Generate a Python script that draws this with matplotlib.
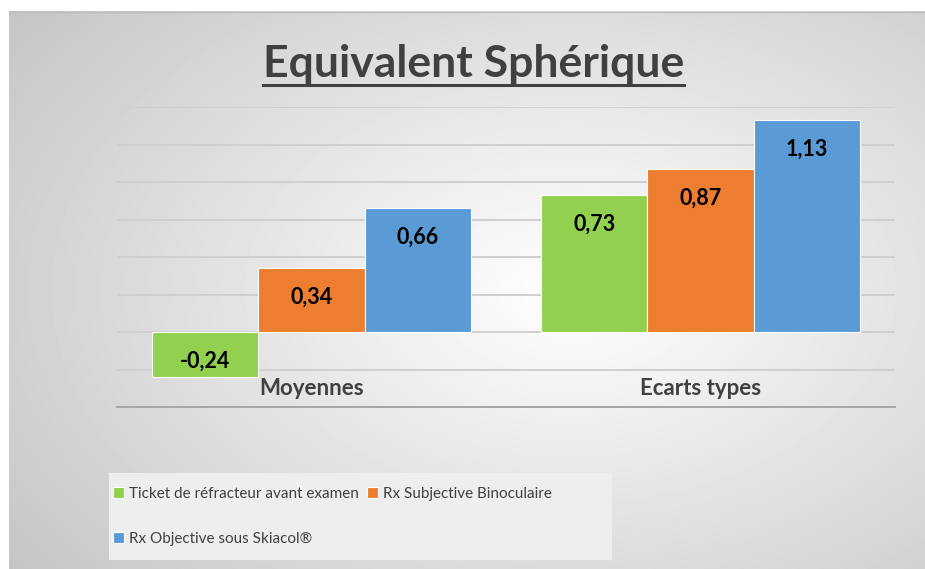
import numpy as np
import matplotlib
matplotlib.use('Agg')
import matplotlib.pyplot as plt
from matplotlib.patches import Rectangle
from matplotlib.lines import Line2D

plt.rcParams['font.family'] = ['Lato', 'DejaVu Sans']

# --- données ---
categories = ['Moyennes', 'Ecarts types']
series = ['Ticket de réfracteur avant examen',
          'Rx Subjective Binoculaire',
          'Rx Objective sous Skiacol®']
ticket = [-0.24, 0.73]
subjective = [0.34, 0.87]
objective = [0.66, 1.13]
colors = ['#92D050', '#ED7D31', '#5B9BD5']
y_ticks = [-0.4, -0.2, 0, 0.2, 0.4, 0.6, 0.8, 1.0, 1.2]

W, H = 925, 569
fig = plt.figure(figsize=(W / 100, H / 100), dpi=100)
fig.patch.set_facecolor('white')

# fond dégradé radial (zone du graphique)
bg = fig.add_axes([9 / W, 0, 1 - 9 / W, 1 - 11 / H], zorder=-2)
yy, xx = np.mgrid[11:H, 9:W]
d = np.hypot((xx - 570) / 460, (yy - 290) / 300)
shade = np.clip(255 - 38 * d, 190, 255) / 255
bg.imshow(shade, cmap='gray', vmin=0, vmax=1, aspect='auto', interpolation='bilinear')
bg.axis('off')
fig.add_artist(Line2D([9 / W, 1], [1 - 11.5 / H, 1 - 11.5 / H], color='#bdbdbd', lw=1))

# axes principaux
ax = fig.add_axes([117 / W, 162 / H, 778 / W, 300 / H])
ax.patch.set_alpha(0)
x = np.arange(len(categories))
w = 0.273
for i, (vals, name, c) in enumerate(zip([ticket, subjective, objective], series, colors)):
    bars = ax.bar(x + (i - 1) * w, vals, w, color=c, edgecolor='white',
                  linewidth=0.8, label=name, zorder=3)
    for b, v in zip(bars, vals):
        ax.annotate(f'{v:.2f}'.replace('.', ','),
                    (b.get_x() + b.get_width() / 2, v),
                    xytext=(0, -29 if v > 0 else 16), textcoords='offset pixels',
                    ha='center', va='center', fontsize=15.5, fontweight='bold',
                    color='black', zorder=4)

for xi, cat in zip(x, categories):
    ax.text(xi, -0.30, cat, ha='center', va='center', fontsize=16,
            fontweight='bold', color='#404040')

ax.set_xlim(-0.5, 1.5)
ax.set_ylim(-0.4, 1.2)
ax.set_yticks(y_ticks)
ax.tick_params(left=False, labelleft=False, bottom=False, labelbottom=False)
ax.grid(axis='y', color='#cfcfcf', lw=1.4, zorder=0)
for s in ['top', 'left', 'right']:
    ax.spines[s].set_visible(False)
ax.spines['bottom'].set_color('#a6a6a6')
ax.spines['bottom'].set_linewidth(1.4)

# titre souligné
t = fig.text(473.5 / W, 1 - 77 / H, 'Equivalent Sphérique', ha='center',
             va='baseline', fontsize=32, fontweight='bold', color='#404040')
fig.canvas.draw()
bb = t.get_window_extent()
fig.add_artist(Line2D([bb.x0 / W, bb.x1 / W], [1 - 85 / H, 1 - 85 / H],
                      color='#404040', lw=2.2))

# légende
fig.add_artist(Rectangle((109 / W, 1 - 560 / H), 503 / W, 87 / H,
                         transform=fig.transFigure, facecolor='#eeeeee',
                         edgecolor='none', zorder=1))
h, l = ax.get_legend_handles_labels()
order = [0, 2, 1]
leg = fig.legend([h[k] for k in order], [l[k] for k in order], loc='upper left',
                 bbox_to_anchor=(113 / W, 1 - 487 / H), frameon=False, ncol=2,
                 fontsize=11, handlelength=0.75, handleheight=0.75,
                 handletextpad=0.3, columnspacing=0.5, labelspacing=2.0,
                 borderpad=0, borderaxespad=0, labelcolor='#404040')
leg.set_zorder(2)

fig.savefig('out.png', dpi=100)
